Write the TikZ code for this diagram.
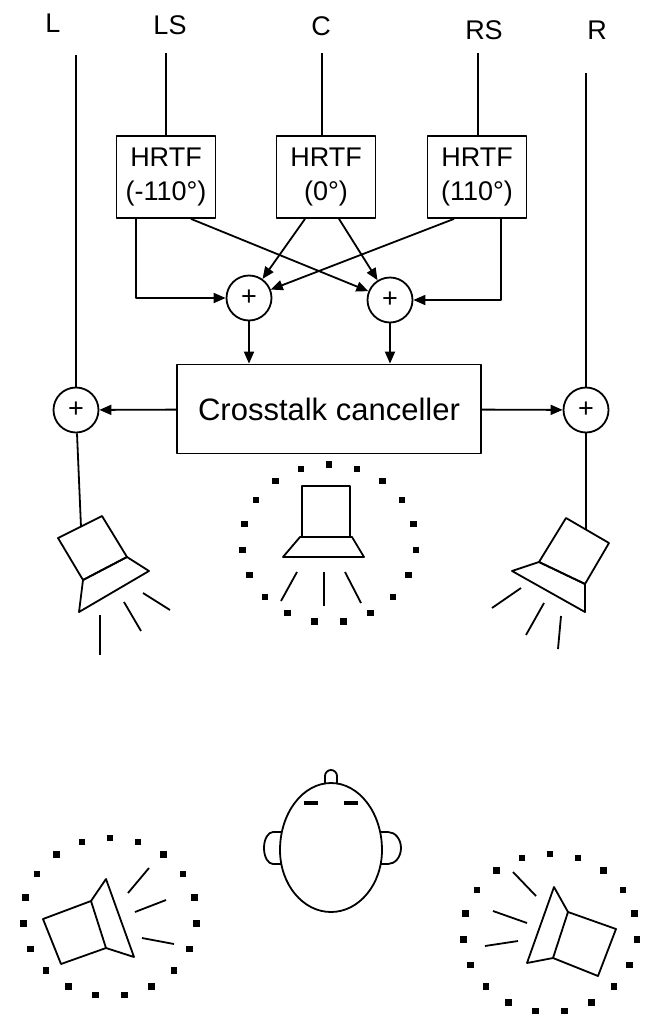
\documentclass[tikz,border=0pt]{standalone}
\usepackage{fontspec}
\setmainfont{Liberation Sans}
\usetikzlibrary{arrows.meta}
\begin{document}
\begin{tikzpicture}[x=1pt,y=-1pt,line width=1.8pt,line join=round,
  lbl/.style={font=\fontsize{27}{30}\selectfont, inner sep=0pt},
  hrtf/.style={draw, minimum width=99pt, minimum height=82pt, inner sep=0pt,
    align=center, font=\fontsize{27}{34}\selectfont},
  sum/.style={draw, circle, minimum size=45pt, inner sep=0pt,
    font=\fontsize{27}{27}\selectfont},
  xbox/.style={draw, minimum width=304pt, minimum height=89pt, inner sep=0pt,
    font=\fontsize{31}{34}\selectfont},
  sig/.style={-{Triangle[length=12pt,width=10pt]}},
  blip/.style={fill=black}
]
\useasboundingbox (0,0) rectangle (648,1017);

% channel labels
\node[lbl] (lblL)  at (53,23)  {L};
\node[lbl] (lblLS) at (170,25) {LS};
\node[lbl] (lblC)  at (321,26) {C};
\node[lbl] (lblRS) at (484,30) {RS};
\node[lbl] (lblR)  at (597,30) {R};

% HRTF filters
\node[hrtf] (hrtfLS) at (166,177) {HRTF\\(-110°)};
\node[hrtf] (hrtfC)  at (326,177) {HRTF\\(0°)};
\node[hrtf] (hrtfRS) at (477,177) {HRTF\\(110°)};

% summing junctions
\node[sum] (sumL) at (249,298) {+};
\node[sum] (sumR) at (390,300) {+};
\node[sum] (outL) at (76,410)  {+};
\node[sum] (outR) at (586,410) {+};

% crosstalk canceller
\node[xbox] (xtalk) at (329,409) {Crosstalk canceller};

% input lines
\coordinate (inL)  at (76,55);
\coordinate (inLS) at (166,53);
\coordinate (inC)  at (322,53);
\coordinate (inRS) at (478,53);
\coordinate (inR)  at (586,73);
\draw (inL) -- (outL);
\draw (inR) -- (outR);
\draw (inLS) -- (inLS |- hrtfLS.north);
\draw (inC) -- (inC |- hrtfC.north);
\draw (inRS) -- (inRS |- hrtfRS.north);

% filter outputs to the summing junctions
\draw[sig] ([xshift=-30pt]hrtfLS.south) |- (sumL.west);
\draw[sig] ([xshift=24pt]hrtfRS.south) |- (sumR.east);
\draw[sig] ([xshift=25pt]hrtfLS.south) -- (sumR);
\draw[sig] ([xshift=-23pt]hrtfRS.south) -- (sumL);
\draw[sig] ([xshift=-21pt]hrtfC.south) -- (sumL);
\draw[sig] ([xshift=13pt]hrtfC.south) -- (sumR);

% into and out of the canceller
\draw[sig] (sumL) -- (sumL |- xtalk.north);
\draw[sig] (sumR) -- (sumR |- xtalk.north);
\draw[sig] (xtalk) -- (outL);
\draw[sig] (xtalk) -- (outR);

% feeds to the front loudspeakers
\coordinate (spkL) at (81,527);
\coordinate (spkR) at (586,530);
\draw (outL) -- (spkL);
\draw (outR) -- (spkR);

% front left loudspeaker
\draw (58,538) -- (102,516) -- (127,557) -- (83,580) -- cycle;
\draw (83,580) -- (127,557) -- (149,571) -- (79,612) -- cycle;
\draw (100,615) -- (100,655);
\draw (124,602) -- (141,631);
\draw (143,593) -- (170,610);

% front right loudspeaker
\draw (566,518) -- (609,543) -- (585,584) -- (539,562) -- cycle;
\draw (539,562) -- (585,584) -- (585,612) -- (512,571) -- cycle;
\draw (521,588) -- (492,608);
\draw (544,603) -- (526,635);
\draw (561,616) -- (558,649);

% virtual centre loudspeaker
\draw (302,486) rectangle (350,537);
\draw (300,537) -- (352,537) -- (364,557) -- (283,557) -- cycle;
\draw (297,572) -- (281,601);
\draw (324,572) -- (324,606);
\draw (345,572) -- (361,603);

% virtual surround left loudspeaker
\draw (43,919) -- (91,901) -- (106,948) -- (61,964) -- cycle;
\draw (91,901) -- (106,879) -- (134,957) -- (106,948);
\draw (128,893) -- (149,868);
\draw (135,912) -- (166,900);
\draw (142,938) -- (174,944);

% virtual surround right loudspeaker
\draw (568,912) -- (616,929) -- (598,976) -- (553,958) -- cycle;
\draw (568,912) -- (554,887) -- (527,963) -- (553,958);
\draw (513,872) -- (536,896);
\draw (493,911) -- (527,923);
\draw (485,946) -- (518,941);

% dotted rings around the virtual sources
\foreach \cx/\cy in {329/543.5, 110/917, 550/933}{
  \foreach \k in {0,...,18}{
    \pgfmathsetmacro{\ang}{-90+\k*360/19}
    \fill[blip] ({\cx+87*cos(\ang)-3.2},{\cy+79*sin(\ang)-3.2})
      rectangle ++(6.4,6.4);
  }
}

% listener's head
\draw (382,850) arc[start angle=0, end angle=-180, x radius=51, y radius=67]
                arc[start angle=180, end angle=0, x radius=51, y radius=62];
\draw (325,784) -- (325,776) arc[start angle=180, end angle=360, radius=6] -- (337,784);
\draw[line width=3.5pt] (304,803) -- (318,803);
\draw[line width=3.5pt] (344,803) -- (358,803);
\draw (281,832) -- (273,832)
  arc[start angle=270, end angle=90, x radius=9, y radius=16] -- (281,864);
\draw (381,832) -- (388,832)
  arc[start angle=-90, end angle=90, x radius=13, y radius=16] -- (381,864);
\end{tikzpicture}
\end{document}
